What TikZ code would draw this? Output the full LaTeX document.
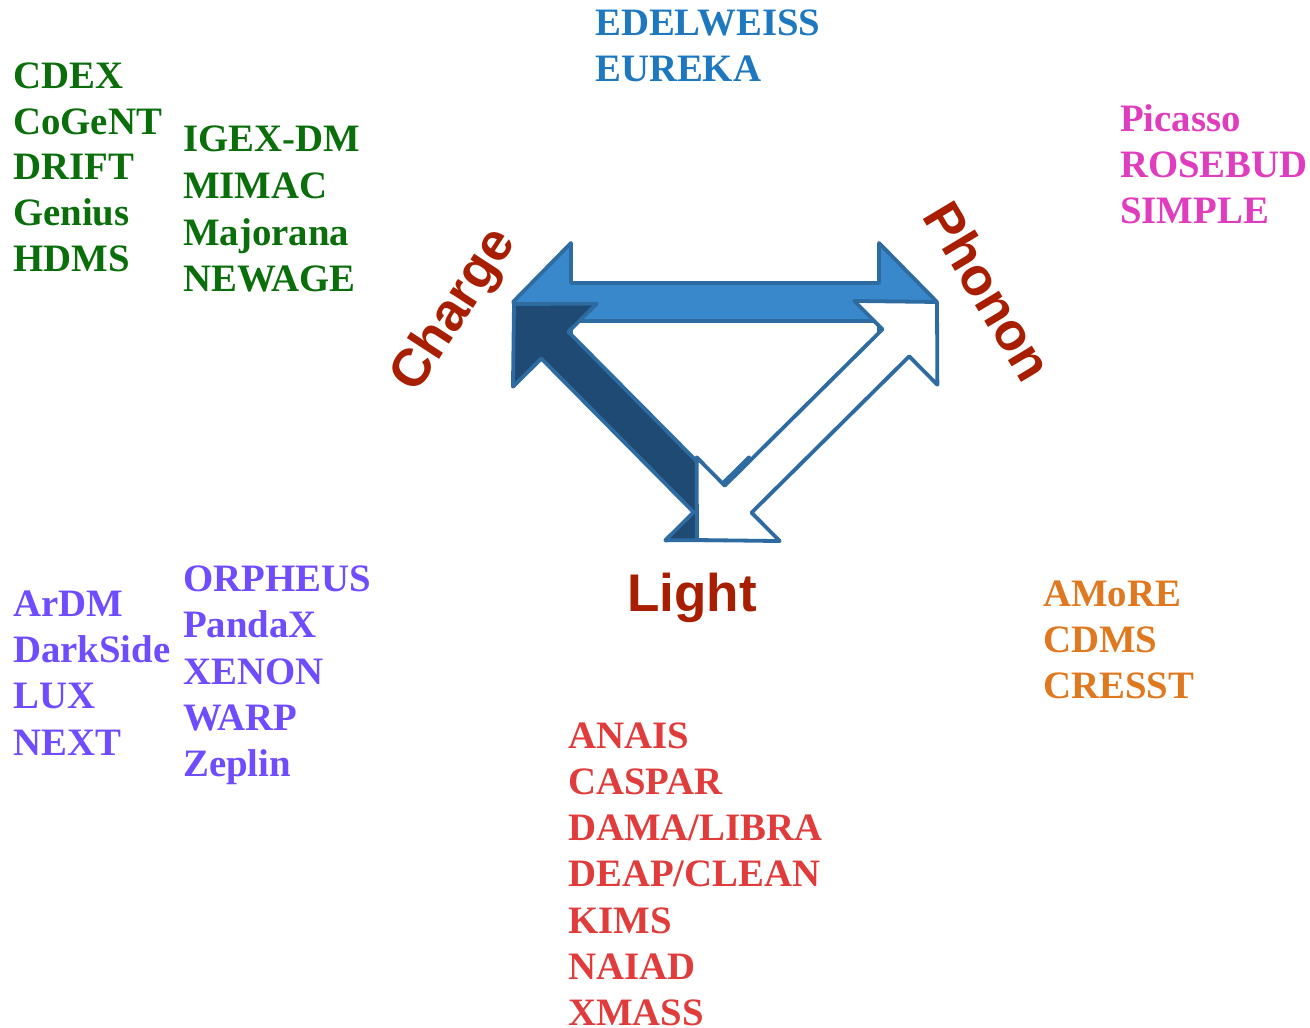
\documentclass[tikz,border=0pt]{standalone}
\usepackage{fontspec}
\setmainfont{Liberation Serif}
\newfontfamily\cornerfont{Liberation Sans}
\usetikzlibrary{calc}

\definecolor{grn}{RGB}{10,110,10}
\definecolor{blu}{RGB}{30,120,192}
\definecolor{mag}{RGB}{224,60,190}
\definecolor{pur}{RGB}{112,76,255}
\definecolor{rd}{RGB}{225,60,60}
\definecolor{org}{RGB}{224,120,32}
\definecolor{cornerred}{RGB}{168,30,0}
\definecolor{arrowedge}{RGB}{46,107,160}
\definecolor{arrowlight}{RGB}{58,136,204}
\definecolor{arrowdark}{RGB}{31,74,115}

\tikzset{
  namelist/.style={anchor=base west, inner sep=0pt,
    font=\fontsize{38.8}{46}\selectfont\bfseries},
  corner/.style={inner sep=0pt, text=cornerred,
    font=\cornerfont\fontsize{53}{60}\selectfont\bfseries},
  arrowbody/.style={draw=arrowedge, line width=3.8pt, line join=round},
}

% double-headed block arrow between two named coordinates
% head length 58, head half-width 59, shaft half-width 19
\newcommand\twoheaded[3]{%
  \coordinate (h1) at ($(#1)!58pt!(#2)$);
  \coordinate (h2) at ($(#2)!58pt!(#1)$);
  \path[arrowbody,#3] (#1)
    -- ($(h1)!59pt!90:(#2)$) -- ($(h1)!19pt!90:(#2)$)
    -- ($(h2)!19pt!-90:(#1)$) -- ($(h2)!59pt!-90:(#1)$)
    -- (#2)
    -- ($(h2)!59pt!90:(#1)$) -- ($(h2)!19pt!90:(#1)$)
    -- ($(h1)!19pt!-90:(#2)$) -- ($(h1)!59pt!-90:(#2)$)
    -- cycle;
}

\begin{document}
\begin{tikzpicture}[x=1pt,y=-1pt]
  \useasboundingbox (0,0) rectangle (1310,1028);
  \fill[white] (0,0) rectangle (1310,1028);

  % arrow end points
  \coordinate (chargeA) at (513,302);
  \coordinate (phononA) at (937,302);
  \coordinate (chargeB) at (514,304);
  \coordinate (lightB)  at (748,540);
  \coordinate (phononC) at (937,302);
  \coordinate (lightC)  at (697,540);

  % the three block arrows
  \twoheaded{chargeA}{phononA}{fill=arrowlight}
  \twoheaded{chargeB}{lightB}{fill=arrowdark}
  \twoheaded{phononC}{lightC}{fill=white}

  % corner labels
  \node[corner, rotate=57] (charge) at (455,311) {Charge};
  \node[corner, rotate=-59] (phonon) at (989,291) {Phonon};
  \node[corner, anchor=base west] (light) at (627,611) {Light};

  % experiment lists
  \foreach \t [count=\i] in {CDEX,CoGeNT,DRIFT,Genius,HDMS}
    \node[namelist, text=grn] (qa\i) at (13,{88.3+45.8*(\i-1)}) {\t};
  \foreach \t [count=\i] in {IGEX-DM,MIMAC,Majorana,NEWAGE}
    \node[namelist, text=grn] (qb\i) at (183,{151.7+46.7*(\i-1)}) {\t};
  \foreach \t [count=\i] in {EDELWEISS,EUREKA}
    \node[namelist, text=blu] (qp\i) at (595,{35+46.7*(\i-1)}) {\t};
  \foreach \t [count=\i] in {Picasso,ROSEBUD,SIMPLE}
    \node[namelist, text=mag] (pb\i) at (1120,{131.7+46*(\i-1)}) {\t};
  \foreach \t [count=\i] in {ArDM,DarkSide,LUX,NEXT}
    \node[namelist, text=pur] (la\i) at (13,{616.7+46.1*(\i-1)}) {\t};
  \foreach \t [count=\i] in {ORPHEUS,PandaX,XENON,WARP,Zeplin}
    \node[namelist, text=pur] (lb\i) at (183,{591.7+46.25*(\i-1)}) {\t};
  \foreach \t [count=\i] in {AMoRE,CDMS,CRESST}
    \node[namelist, text=org] (lp\i) at (1043,{606.7+45.8*(\i-1)}) {\t};
  \foreach \t [count=\i] in {ANAIS,CASPAR,DAMA/LIBRA,DEAP/CLEAN,KIMS,NAIAD,XMASS}
    \node[namelist, text=rd] (ll\i) at (568,{748+46.3*(\i-1)}) {\t};
\end{tikzpicture}
\end{document}
